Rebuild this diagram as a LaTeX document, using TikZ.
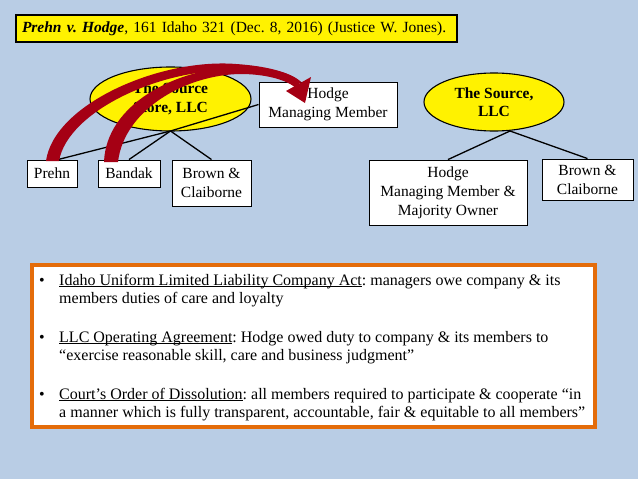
\documentclass[tikz,border=0pt]{standalone}
\usepackage{fontspec}
\setmainfont{Liberation Serif}
\usetikzlibrary{shapes.geometric,calc}
\definecolor{bg}{RGB}{185,205,229}
\definecolor{org}{RGB}{228,108,10}
\definecolor{arr}{RGB}{165,0,20}
\newcommand\myul[1]{\setbox0\hbox{#1}\rlap{\rule[-2.2pt]{\wd0}{0.8pt}}\box0}
\AtBeginDocument{\frenchspacing}
\begin{document}
\begin{tikzpicture}[x=1pt,y=-1pt,
  box/.style={draw=black, fill=white, line width=0.9pt, align=center, inner sep=0pt, font=\fontsize{15.5}{19}\selectfont},
  oval/.style={ellipse, draw=black, fill=yellow, line width=1.1pt, align=center, inner sep=0pt, font=\fontsize{15.5}{18.5}\selectfont\bfseries},
  link/.style={draw=black, line width=1.3pt},
  redarrow/.style={fill=arr, draw=none},
  bline/.style={anchor=base west, inner sep=0pt, font=\fontsize{16}{18.4}\selectfont}
]
\fill[bg] (0,0) rectangle (638,479);
\useasboundingbox (0,0) rectangle (638,479);

% title
\node[draw=black, fill=yellow, line width=1.2pt, minimum width=441pt, minimum height=27pt,
      text width=437pt, inner xsep=2pt, inner ysep=0pt, align=left,
      font=\fontsize{15.5}{18}\selectfont] (title) at (236.5,28.5)
  {\hspace*{4pt}\textbf{\textit{Prehn v. Hodge}}, 161 Idaho 321 (Dec. 8, 2016) (Justice W. Jones).};

% ovals
\node[oval, minimum width=161pt, minimum height=64pt] (srcL) at (170.5,99) {The Source\\Store, LLC};
\node[oval, minimum width=140pt, minimum height=58pt] (srcR) at (494,102) {The Source,\\LLC};

% boxes
\node[box, minimum width=138pt, minimum height=45pt] (hodgeL) at (328,104.5) {Hodge\\Managing Member};
\node[box, minimum width=50pt, minimum height=27pt] (prehn) at (52,173.5) {Prehn};
\node[box, minimum width=62pt, minimum height=27pt] (bandak) at (129,173.5) {Bandak};
\node[box, minimum width=79pt, minimum height=46pt] (brownL) at (211.5,183) {Brown \&\\Claiborne};
\node[box, minimum width=158pt, minimum height=65pt] (hodgeR) at (448,192.5) {Hodge\\Managing Member \&\\Majority Owner};
\node[box, minimum width=91pt, minimum height=41pt] (brownR) at (587.5,179.5) {Brown \&\\Claiborne};

% connectors
\coordinate (jL) at (170.5,131);
\coordinate (jR) at (510,131);
\draw[link] (jL) -- ([xshift=6pt]prehn.north);
\draw[link] (jL) -- (bandak.north);
\draw[link] (jL) -- (brownL.north);
\draw[link] (jL) -- (hodgeL.west);
\draw[link] (jR) -- (hodgeR.north);
\draw[link] (jR) -- (brownR.north);

% red curved arrows
\fill[redarrow] (46,161) .. controls (54,104) and (160,58) .. (236,64)
   .. controls (266,66) and (290,72) .. (301,82)
   -- (295,87) .. controls (284,78) and (262,72) .. (236,71)
   .. controls (165,67) and (68,110) .. (59,161) -- cycle;
\fill[redarrow] (104,162) .. controls (106,105) and (175,68) .. (240,67)
   .. controls (268,67) and (290,72) .. (301,82)
   -- (295,87) .. controls (284,79) and (264,74) .. (240,74)
   .. controls (185,75) and (124,110) .. (118,162) -- cycle;
\fill[redarrow] (286,91) -- (305,103) -- (311,77) -- cycle;

% bottom panel
\node[draw=org, line width=4pt, fill=white, minimum width=563pt, minimum height=162pt, inner sep=0pt] (panel) at (313.5,346) {};
\node[bline] (d1) at (39,285) {•};
\node[bline] (l1) at (59,285) {\myul{Idaho Uniform Limited Liability Company Act}: managers owe company \& its};
\node[bline] (l2) at (59,303) {members duties of care and loyalty};
\node[bline] (d2) at (39,342) {•};
\node[bline] (l3) at (59,342) {\myul{LLC Operating Agreement}: Hodge owed duty to company \& its members to};
\node[bline] (l4) at (59,360) {“exercise reasonable skill, care and business judgment”};
\node[bline] (d3) at (39,399) {•};
\node[bline] (l5) at (59,399) {\myul{Court’s Order of Dissolution}: all members required to participate \& cooperate “in};
\node[bline] (l6) at (59,417) {a manner which is fully transparent, accountable, fair \& equitable to all members”};
\end{tikzpicture}
\end{document}
